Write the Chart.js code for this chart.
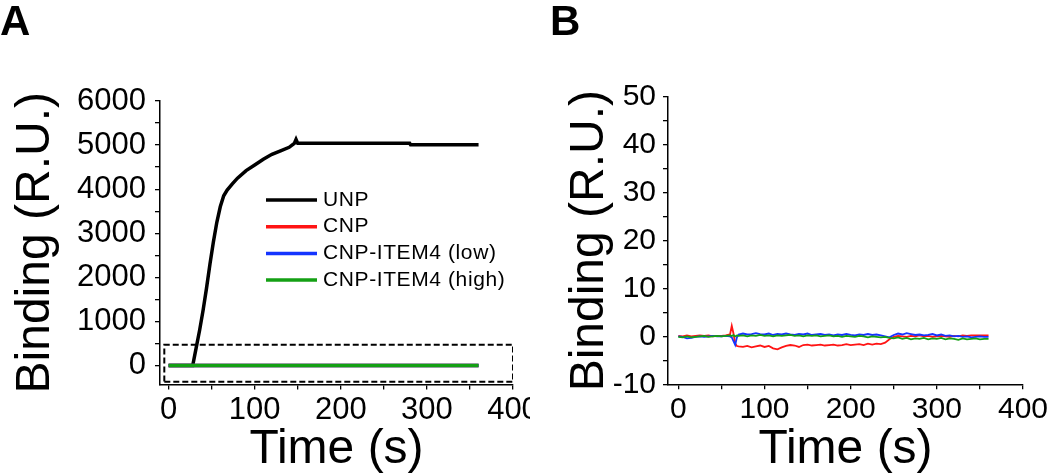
<!DOCTYPE html>
<html>
<head>
<meta charset="utf-8">
<script src="https://cdn.jsdelivr.net/npm/chart.js@4.4.1/dist/chart.umd.min.js"></script>
<style>
  body { margin: 0; background: #fff; }
  #wrap { position: relative; width: 1050px; height: 476px; overflow: hidden; }
  .panel { position: absolute; top: 0; }
  .tag { position: absolute; top: 0; font: bold 42px "Liberation Sans", Arial, sans-serif; line-height: 42px; color: #000; }
</style>
</head>
<body>
<div id="wrap">
  <canvas id="chartA" class="panel" width="530" height="476" style="left:0"></canvas>
  <canvas id="chartB" class="panel" width="520" height="476" style="left:530px"></canvas>
  <div class="tag" style="left:0">A</div>
  <div class="tag" style="left:550px">B</div>
</div>
<script>
const FONT = '"Liberation Sans", Arial, sans-serif';

// series names / colours (legend order)
const seriesNames = ['UNP', 'CNP', 'CNP-ITEM4 (low)', 'CNP-ITEM4 (high)'];
const seriesColors = ['#000000', '#ff1414', '#1434ff', '#14a014'];

// Panel A - full range
const unpTime = [0, 28, 32, 36, 40, 44, 48, 52, 56, 60, 64, 68, 74, 80, 90, 100, 110, 120, 130, 140, 146, 148, 150, 200, 280, 281, 360];
const unpBinding = [0, 0, 400, 800, 1250, 1750, 2300, 2800, 3250, 3600, 3850, 3980, 4120, 4250, 4420, 4550, 4680, 4790, 4870, 4950, 5040, 5130, 5040, 5040, 5040, 5010, 5010];
const flatTime = [0, 60, 120, 180, 240, 300, 360];
const cnpBindingA = [0, 0, 0, 0, 0, 0, 0];
const lowBindingA = [0, 0, 0, 0, 0, 0, 0];
const highBindingA = [0, 0, 0, 0, 0, 0, 0];
// dashed zoom box (data units)
const boxTime = [-5, 400, 400, -5, -5];
const boxBinding = [-370, -370, 470, 470, -370];

// ticks (all marks) and the ones that get a label
const xTicks = [0, 50, 100, 150, 200, 250, 300, 350, 400];
const xTickLabels = [0, 100, 200, 300, 400];
const yTicksA = [0, 500, 1000, 1500, 2000, 2500, 3000, 3500, 4000, 4500, 5000, 5500, 6000];
const yTickLabelsA = [0, 1000, 2000, 3000, 4000, 5000, 6000];
const yTicksB = [-10, -5, 0, 5, 10, 15, 20, 25, 30, 35, 40, 45, 50];
const yTickLabelsB = [-10, 0, 10, 20, 30, 40, 50];

// Panel B - zoomed baseline
const bTime = [0, 5, 10, 15, 20, 25, 30, 35, 40, 45, 50, 55, 60, 62, 64, 66, 68, 70,
  75, 80, 85, 90, 95, 100, 105, 110, 115, 120, 125, 130, 135, 140, 145, 150, 155, 160, 165, 170,
  175, 180, 185, 190, 195, 200, 205, 210, 215, 220, 225, 230, 235, 240, 245, 250, 255, 260, 265, 270,
  275, 280, 285, 290, 295, 300, 305, 310, 315, 320, 325, 330, 335, 340, 345, 350, 355, 360];
const cnpBindingB = [0.1, 0.0, 0.2, 0.0, 0.1, 0.2, 0.1, 0.2, 0.0, 0.1,
  0.1, 0.2, 0.4, 2.2, 0.6, -1.5, -2.0, -2.1,
  -2.2, -2.0, -2.3, -2.1, -1.9, -2.2, -2.0, -2.5, -2.7, -2.3,
  -2.0, -1.8, -1.9, -2.2, -1.8, -1.7, -1.9, -1.8, -1.7, -1.9,
  -1.8, -1.7, -1.9, -1.8, -1.6, -1.8, -1.7, -1.6, -1.8, -1.5,
  -1.7, -1.5, -1.6, -1.3, -0.6, -0.1, 0.1, 0.0, -0.1, 0.1,
  0.0, 0.2, 0.0, 0.1, -0.1, 0.0, 0.1, 0.0, -0.1, 0.1,
  0.0, 0.2, 0.1, 0.2, 0.2, 0.2, 0.2, 0.2];
const lowBindingB = [0.0, -0.1, -0.4, -0.3, -0.1, 0.0, -0.1, 0.0, 0.1, 0.0,
  0.0, 0.1, 0.0, -0.2, -1.0, -1.8, -0.2, 0.4,
  0.6, 0.4, 0.5, 0.7, 0.5, 0.4, 0.6, 0.3, 0.5, 0.4,
  0.6, 0.4, 0.3, 0.5, 0.4, 0.6, 0.3, 0.4, 0.5, 0.3,
  0.4, 0.2, 0.4, 0.3, 0.5, 0.3, 0.2, 0.4, 0.3, 0.5,
  0.3, 0.4, 0.2, 0.0, -0.2, 0.3, 0.6, 0.4, 0.7, 0.5,
  0.3, 0.4, 0.2, 0.3, 0.5, 0.2, 0.4, 0.1, 0.2, 0.0,
  0.1, -0.1, 0.0, -0.2, -0.1, 0.0, -0.1, -0.1];
const highBindingB = [-0.1, -0.2, 0.0, -0.2, -0.1, 0.0, 0.1, -0.1, 0.0, 0.1,
  0.0, 0.1, 0.2, 0.1, 0.3, 0.0, 0.2, 0.1,
  0.2, 0.0, 0.2, 0.1, 0.3, 0.1, 0.2, 0.0, 0.2, 0.1,
  0.2, 0.3, 0.1, 0.2, 0.0, 0.2, 0.1, 0.2, 0.0, 0.1,
  0.2, 0.0, 0.1, -0.1, 0.1, 0.0, -0.1, 0.1, 0.0, -0.2,
  0.0, -0.1, -0.2, -0.1, -0.3, -0.4, -0.2, -0.5, -0.3, -0.6,
  -0.4, -0.5, -0.3, -0.6, -0.4, -0.5, -0.3, -0.6, -0.4, -0.5,
  -0.7, -0.4, -0.6, -0.5, -0.4, -0.6, -0.5, -0.5];

function pts(xs, ys) {
  return xs.map((x, i) => ({ x: x, y: ys[i] }));
}

function line(label, xs, ys, color, width, order) {
  return { label: label, data: pts(xs, ys), borderColor: color, backgroundColor: color,
    borderWidth: width, showLine: true, pointRadius: 0, tension: 0, order: order };
}

function axis(o) {
  return {
    type: 'linear',
    min: o.min,
    max: o.max,
    border: { display: true, color: '#000', width: 1.5 },
    grid: { display: true, drawOnChartArea: false, drawTicks: true, tickLength: 5, color: '#000', lineWidth: 1.3 },
    ticks: {
      autoSkip: false, maxRotation: 0,
      padding: o.pad, color: '#000', font: { family: FONT, size: o.size || 30 },
      callback: v => o.labels.includes(v) ? String(v) : ''
    },
    title: { display: true, text: o.title, color: '#000', font: { family: FONT, size: 48, lineHeight: 1 }, padding: o.titlePad },
    afterBuildTicks: s => { s.ticks = o.ticks.map(v => ({ value: v })); },
    afterFit: s => {
      if (o.width) s.width = o.width;
      if (o.height) s.height = o.height;
      s.paddingLeft = 0; s.paddingRight = 0; s.paddingTop = 0; s.paddingBottom = 0;
    }
  };
}

// legend drawn inside panel A
const lineKey = {
  id: 'lineKey',
  afterDatasetsDraw(chart, args, o) {
    const ctx = chart.ctx;
    ctx.save();
    ctx.font = '21px ' + FONT;
    ctx.letterSpacing = '0.6px';
    ctx.textBaseline = 'middle';
    seriesNames.forEach((name, i) => {
      const y = o.top + i * o.gap;
      ctx.strokeStyle = seriesColors[i];
      ctx.lineWidth = 3.5;
      ctx.beginPath();
      ctx.moveTo(o.left, y);
      ctx.lineTo(o.left + 51, y);
      ctx.stroke();
      ctx.fillStyle = '#000';
      ctx.fillText(name, o.left + 57, y);
    });
    ctx.restore();
  }
};

const common = {
  responsive: false,
  animation: false,
  events: [],
  plugins: { legend: { display: false }, tooltip: { enabled: false } }
};

new Chart(document.getElementById('chartA'), {
  type: 'scatter',
  data: {
    datasets: [
      line(seriesNames[0], unpTime, unpBinding, seriesColors[0], 3.5, 4),
      line(seriesNames[1], flatTime, cnpBindingA, seriesColors[1], 3.5, 3),
      line(seriesNames[2], flatTime, lowBindingA, seriesColors[2], 3.5, 2),
      line(seriesNames[3], flatTime, highBindingA, seriesColors[3], 3.5, 1),
      Object.assign(line('box', boxTime, boxBinding, '#000', 2, 0), { borderDash: [6, 3] })
    ]
  },
  options: Object.assign({}, common, {
    layout: { padding: { left: 0, right: 17, top: 101, bottom: 0 } },
    plugins: Object.assign({}, common.plugins, { lineKey: { left: 266, top: 200, gap: 26.7 } }),
    scales: {
      x: axis({ min: -10, max: 400, ticks: xTicks, labels: xTickLabels, pad: 2, size: 31, title: 'Time (s)',
        titlePad: { bottom: 2 }, height: 91.5 }),
      y: axis({ min: -430, max: 6000, ticks: yTicksA, labels: yTickLabelsA, pad: 9, size: 31, title: 'Binding (R.U.)',
        titlePad: { top: 12 }, width: 160 })
    }
  }),
  plugins: [lineKey]
});

new Chart(document.getElementById('chartB'), {
  type: 'scatter',
  data: {
    datasets: [
      line(seriesNames[1], bTime, cnpBindingB, seriesColors[1], 1.8, 3),
      line(seriesNames[2], bTime, lowBindingB, seriesColors[2], 1.8, 2),
      line(seriesNames[3], bTime, highBindingB, seriesColors[3], 1.8, 1)
    ]
  },
  options: Object.assign({}, common, {
    layout: { padding: { left: 0, right: 27, top: 97, bottom: 0 } },
    scales: {
      x: axis({ min: -12, max: 400, ticks: xTicks, labels: xTickLabels, pad: 2, size: 30, title: 'Time (s)',
        titlePad: { bottom: 2 }, height: 91.7 }),
      y: axis({ min: -10, max: 50, ticks: yTicksB, labels: yTickLabelsB, pad: 7, size: 30, title: 'Binding (R.U.)',
        titlePad: { top: 36 }, width: 138 })
    }
  })
});
</script>
</body>
</html>
